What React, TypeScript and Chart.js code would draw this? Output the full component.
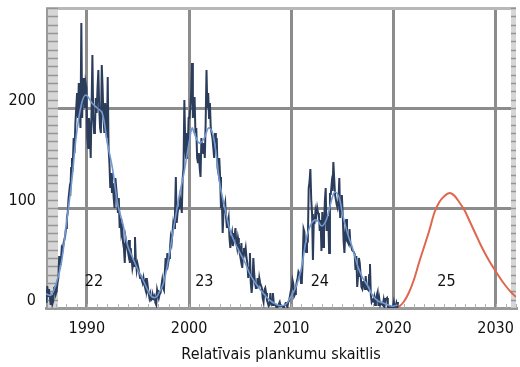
import React, { useEffect, useRef } from 'react';
import { Chart, registerables } from 'chart.js';

Chart.register(...registerables);

const FONT = "'Liberation Sans Narrow', 'DejaVu Sans Condensed', 'Roboto', sans-serif";
const FONT_SIZE = 16;

// Monthly sunspot numbers, cycle 22 (Jan 1986 - Dec 1996)
const cycle22Start = 1986;
const cycle22Monthly = [
  5, 22, 12, 19, 12, 3, 13, 4, 7, 20, 22, 14,
  17, 25, 30, 52, 44, 47, 60, 58, 64, 68, 72, 80,
  90, 95, 110, 118, 112, 140, 150, 145, 170, 155, 185, 200,
  215, 190, 225, 195, 180, 285, 190, 230, 215, 200, 225, 220,
  170, 160, 190, 175, 150, 200, 253, 190, 175, 180, 210, 195,
  220, 238, 200, 180, 175, 243, 220, 190, 175, 205, 190, 170,
  231, 160, 145, 120, 135, 115, 125, 110, 100, 130, 120, 110,
  95, 110, 80, 90, 75, 80, 65, 60, 45, 70, 65, 60,
  55, 68, 45, 60, 50, 40, 45, 42, 71, 48, 38, 44,
  40, 35, 30, 33, 28, 25, 30, 24, 20, 30, 18, 22,
  15, 10, 14, 8, 9, 13, 10, 12, 5, 3, 18, 14,
];

// Monthly sunspot numbers, cycle 23 (Jan 1997 - Dec 2008)
const cycle23Start = 1997;
const cycle23Monthly = [
  10, 14, 15, 22, 28, 20, 18, 35, 50, 38, 55, 45,
  50, 58, 70, 65, 75, 85, 80, 95, 131, 85, 95, 100,
  100, 110, 105, 95, 130, 140, 208, 165, 150, 175, 160, 190,
  190, 200, 215, 245, 190, 200, 211, 175, 180, 150, 145, 155,
  140, 131, 170, 160, 155, 165, 150, 185, 238, 200, 215, 190,
  205, 180, 175, 170, 160, 150, 175, 165, 170, 140, 135, 150,
  131, 100, 110, 75, 95, 100, 105, 90, 80, 85, 90, 70,
  60, 70, 75, 62, 68, 72, 80, 65, 60, 70, 65, 55,
  50, 65, 40, 55, 60, 55, 60, 50, 45, 30, 40, 55,
  25, 15, 25, 50, 35, 25, 20, 20, 30, 20, 30, 25,
  25, 20, 10, 6, 18, 20, 15, 8, 5, 2, 3, 15,
  5, 3, 15, 5, 3, 3, 1, 0.5, 2, 4, 6, 2,
];

// Monthly sunspot numbers, cycle 24 (Jan 2009 - Jun 2020)
const cycle24Start = 2009;
const cycle24Monthly = [
  2, 2, 1, 1.5, 3, 5, 5, 0.5, 6, 7, 7, 17,
  20, 28, 24, 12, 14, 20, 26, 30, 36, 34, 35, 25,
  27, 48, 79, 76, 58, 56, 65, 66, 120, 126, 139, 109,
  94, 48, 87, 86, 97, 92, 100, 95, 94, 77, 88, 57,
  96, 61, 78, 107, 120, 77, 86, 92, 55, 114, 114, 124,
  117, 146, 129, 113, 113, 103, 100, 107, 130, 90, 104, 113,
  93, 67, 55, 75, 89, 67, 66, 64, 79, 64, 62, 58,
  57, 56, 54, 38, 52, 21, 32, 50, 45, 33, 21, 19,
  26, 26, 18, 32, 19, 19, 18, 33, 44, 13, 6, 8,
  7, 11, 3, 9, 13, 16, 2, 9, 3, 5, 5, 3,
  8, 1, 9, 9, 10, 1, 1, 0.5, 1, 0.4, 0.5, 1.5,
  6, 0.2, 1.5, 5, 0.2, 6,
];

// Smoothed sunspot number
const smoothYears = [
  1986.0, 1986.5, 1987.0, 1987.5, 1988.0, 1988.5, 1989.0, 1989.5, 1989.9, 1990.5,
  1991.0, 1991.5, 1992.0, 1992.5, 1993.0, 1993.5, 1994.0, 1994.5, 1995.0, 1995.5,
  1996.0, 1996.4, 1996.8, 1997.0, 1997.5, 1998.0, 1998.5, 1999.0, 1999.5, 2000.0,
  2000.3, 2000.5, 2001.0, 2001.5, 2001.9, 2002.3, 2002.7, 2003.0, 2003.5, 2004.0,
  2004.5, 2005.0, 2005.5, 2006.0, 2006.5, 2007.0, 2007.5, 2008.0, 2008.5, 2008.95,
  2009.5, 2010.0, 2010.5, 2011.0, 2011.5, 2012.0, 2012.5, 2013.0, 2013.5, 2014.0,
  2014.3, 2014.7, 2015.0, 2015.5, 2016.0, 2016.5, 2017.0, 2017.5, 2018.0, 2018.5,
  2019.0, 2019.5, 2019.95, 2020.4,
];
const smoothValues = [
  14, 13, 25, 45, 85, 125, 175, 205, 213, 205,
  200, 195, 165, 140, 105, 85, 62, 50, 38, 28,
  17, 11, 11, 14, 25, 50, 80, 110, 135, 165,
  180, 175, 165, 170, 180, 175, 150, 125, 100, 78,
  65, 55, 45, 33, 25, 18, 12, 7, 4, 2.2,
  4, 12, 22, 40, 70, 85, 88, 82, 90, 110,
  116, 110, 95, 75, 60, 42, 30, 22, 12, 7,
  5, 3, 1.8, 3,
];

// Cycle 25 forecast
const forecastYears = [
  2020.4, 2021.0, 2021.5, 2022.0, 2022.5, 2023.0, 2023.5, 2024.0, 2024.5, 2025.0,
  2025.5, 2026.0, 2026.5, 2027.0, 2027.5, 2028.0, 2028.5, 2029.0, 2029.5, 2030.0,
  2030.5, 2031.0, 2031.5, 2032.0,
];
const forecastValues = [
  0, 6, 15, 28, 45, 61, 77, 95, 106, 112,
  115, 112, 105, 97, 86, 75, 64, 54, 45, 37,
  29, 22, 16, 11,
];

const xTickValues = [1990, 2000, 2010, 2020, 2030];
const yTickValues = [0, 100, 200, 300];
const cycleNames = ['22', '23', '24', '25'];
const cycleNameYears = [1990.7, 2001.5, 2012.8, 2025.2];
const cycleNameLevel = 26;
const xTitle = 'Relatīvais plankumu skaitlis';

function monthly(start: number, vals: number[]) {
  return vals.map((v, i) => ({ x: start + (i + 0.5) / 12, y: v }));
}

const decorPlugin = {
  id: 'decor',
  beforeDatasetsDraw(chart: any) {
    const { ctx, chartArea: a, scales } = chart;
    const y = scales.y;
    const x = scales.x;
    ctx.save();
    ctx.fillStyle = '#d6d6d6';
    ctx.fillRect(a.left, a.top, 12, a.bottom - a.top);
    ctx.fillRect(a.right - 5, a.top, 5, a.bottom - a.top);
    ctx.strokeStyle = '#959595';
    ctx.lineWidth = 1.5;
    ctx.beginPath();
    for (let v = 0; v <= 300; v += 100 / 12) {
      const py = Math.round(y.getPixelForValue(v)) + 0.5;
      ctx.moveTo(a.left, py);
      ctx.lineTo(a.left + 12, py);
      ctx.moveTo(a.right - 5, py);
      ctx.lineTo(a.right, py);
    }
    ctx.stroke();
    ctx.strokeStyle = '#b0b0b0';
    ctx.lineWidth = 1;
    ctx.beginPath();
    for (let yr = 1987; yr <= 2032; yr++) {
      const px = Math.round(x.getPixelForValue(yr)) + 0.5;
      ctx.moveTo(px, a.bottom);
      ctx.lineTo(px, a.bottom - 4);
    }
    ctx.stroke();
    ctx.strokeStyle = '#9a9a9a';
    ctx.lineWidth = 2;
    ctx.beginPath();
    ctx.moveTo(a.left + 1, a.top);
    ctx.lineTo(a.left + 1, a.bottom);
    ctx.stroke();
    ctx.restore();
  },
  afterDatasetsDraw(chart: any) {
    const { ctx, scales } = chart;
    ctx.save();
    ctx.fillStyle = '#111';
    ctx.font = `${FONT_SIZE}px ${FONT}`;
    ctx.textAlign = 'center';
    ctx.textBaseline = 'middle';
    cycleNames.forEach((n, i) => {
      ctx.fillText(n, scales.x.getPixelForValue(cycleNameYears[i]), scales.y.getPixelForValue(cycleNameLevel));
    });
    ctx.restore();
  },
};

export default function App() {
  const ref = useRef<HTMLCanvasElement>(null);
  useEffect(() => {
    document.body.style.margin = '0';
    if (!ref.current) return;
    const data = [
      ...monthly(cycle22Start, cycle22Monthly),
      ...monthly(cycle23Start, cycle23Monthly),
      ...monthly(cycle24Start, cycle24Monthly),
    ];
    const smooth = smoothYears.map((x, i) => ({ x, y: smoothValues[i] }));
    const forecast = forecastYears.map((x, i) => ({ x, y: forecastValues[i] }));
    const chart = new Chart(ref.current, {
      type: 'line',
      data: {
        datasets: [
          {
            data: forecast,
            borderColor: '#e0674e',
            borderWidth: 2,
            pointRadius: 0,
            cubicInterpolationMode: 'monotone',
            order: 3,
          },
          {
            data: smooth,
            borderColor: '#7399d2',
            borderWidth: 1.6,
            pointRadius: 0,
            tension: 0.4,
            order: 1,
          },
          {
            data,
            borderColor: '#2c3d5c',
            borderWidth: 2,
            pointRadius: 0,
            tension: 0,
            order: 2,
          },
        ],
      },
      options: {
        animation: false,
        responsive: false,
        devicePixelRatio: 1,
        layout: { padding: { top: 8, right: 4, left: 0, bottom: 0 } },
        plugins: { legend: { display: false }, tooltip: { enabled: false } },
        scales: {
          x: {
            type: 'linear',
            min: 1986,
            max: 2032,
            afterBuildTicks: (s: any) => { s.ticks = xTickValues.map((v) => ({ value: v })); },
            afterFit: (s: any) => { s.height = 59; s.paddingLeft = 0; s.paddingRight = 0; },
            grid: { color: '#8c8c8c', lineWidth: 3, drawTicks: false },
            border: { display: true, color: '#9a9a9a', width: 3 },
            ticks: {
              padding: 11,
              color: '#111',
              font: { family: FONT, size: FONT_SIZE },
              callback: (v: any) => String(v),
              maxRotation: 0,
            },
            title: {
              display: true,
              text: xTitle,
              color: '#111',
              font: { family: FONT, size: FONT_SIZE },
              padding: { top: 0, bottom: 3 },
            },
          },
          y: {
            type: 'linear',
            min: 0,
            max: 300,
            afterBuildTicks: (s: any) => { s.ticks = yTickValues.map((v) => ({ value: v })); },
            afterFit: (s: any) => { s.width = 46; s.paddingTop = 0; s.paddingBottom = 0; },
            grid: {
              color: (c: any) => (c.tick && c.tick.value === 300 ? '#b8b8b8' : '#8c8c8c'),
              lineWidth: 3,
              drawTicks: false,
            },
            border: { display: false },
            ticks: {
              padding: 10,
              labelOffset: -7,
              color: '#111',
              font: { family: FONT, size: FONT_SIZE },
              callback: (v: any) => (v === 300 ? '' : String(v)),
            },
          },
        },
      },
      plugins: [decorPlugin],
    } as any);
    return () => chart.destroy();
  }, []);
  return (
    <div style={{ width: 520, height: 367 }}>
      <canvas ref={ref} width={520} height={367} />
    </div>
  );
}
